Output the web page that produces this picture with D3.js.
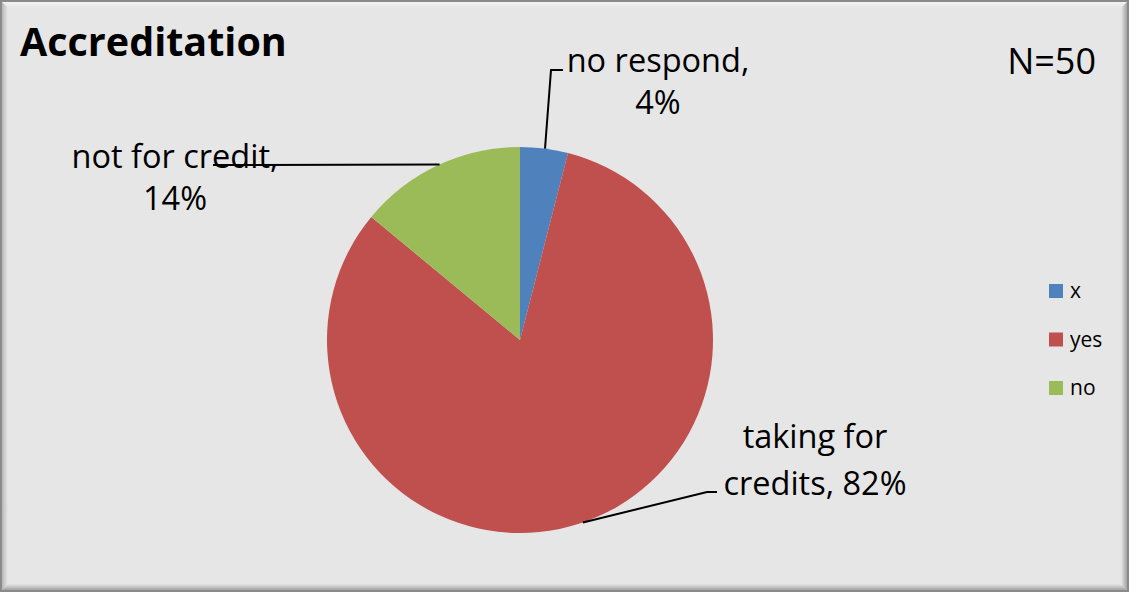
<!DOCTYPE html>
<html>
<head>
<meta charset="utf-8">
<script src="https://cdn.jsdelivr.net/npm/d3@7"></script>
<style>
  html, body { margin: 0; padding: 0; background: #ffffff; }
  svg { display: block; font-family: "Open Sans", "Liberation Sans", sans-serif; }
</style>
</head>
<body>
<div id="chart"></div>
<script>
(function () {
  // Data

  const categories = ["x", "yes", "no"];
  const counts = [2, 41, 7];               // N=50
  const sliceLabels = ["no respond,", "taking for credits,", "not for credit,"];
  const colors = ["#4f81bd", "#c0504d", "#9bbb59"];

  const title = "Accreditation";
  const noteText = "N=50";

  // Config

  const width = 1129;
  const height = 592;
  const cx = 520;
  const cy = 340;
  const radius = 193;

  const svg = d3.select("#chart")
    .append("svg")
    .attr("width", width)
    .attr("height", height)
    .attr("viewBox", [0, 0, width, height]);

  // Bevelled frame

  const defs = svg.append("defs");

  function grad(id, x1, y1, x2, y2, stops) {
    const g = defs.append("linearGradient")
      .attr("id", id)
      .attr("x1", x1).attr("y1", y1).attr("x2", x2).attr("y2", y2);
    stops.forEach(s => g.append("stop").attr("offset", s[0]).attr("stop-color", s[1]));
  }

  grad("bevTop", 0, 0, 0, 1, [[0, "#f6f6f6"], [1, "#e6e6e6"]]);
  grad("bevLeft", 0, 0, 1, 0, [[0, "#a8a8a8"], [1, "#e6e6e6"]]);
  grad("bevRight", 0, 0, 1, 0, [[0, "#e6e6e6"], [1, "#8c8c8c"]]);
  grad("bevBottom", 0, 0, 0, 1, [[0, "#e6e6e6"], [1, "#8c8c8c"]]);

  const b = 8;
  svg.append("rect")
    .attr("x", 0).attr("y", 0)
    .attr("width", width).attr("height", height)
    .attr("fill", "#e6e6e6");

  svg.append("polygon")
    .attr("points", [[0, 0], [width, 0], [width - b, b], [b, b]].join(" "))
    .attr("fill", "url(#bevTop)");
  svg.append("polygon")
    .attr("points", [[0, 0], [b, b], [b, height - b], [0, height]].join(" "))
    .attr("fill", "url(#bevLeft)");
  svg.append("polygon")
    .attr("points", [[width, 0], [width, height], [width - b, height - b], [width - b, b]].join(" "))
    .attr("fill", "url(#bevRight)");
  svg.append("polygon")
    .attr("points", [[0, height], [b, height - b], [width - b, height - b], [width, height]].join(" "))
    .attr("fill", "url(#bevBottom)");

  svg.append("rect")
    .attr("x", 1).attr("y", 1)
    .attr("width", width - 2).attr("height", height - 2)
    .attr("fill", "none")
    .attr("stroke", "#8a8a8a")
    .attr("stroke-width", 2);

  // Pie

  const pie = d3.pie().sort(null).value(d => d)
    .startAngle(0).endAngle(2 * Math.PI);
  const arcs = pie(counts);
  const total = d3.sum(counts);

  const arc = d3.arc().innerRadius(0).outerRadius(radius);

  const gPie = svg.append("g")
    .attr("transform", `translate(${cx},${cy})`);

  gPie.selectAll("path.slice")
    .data(arcs)
    .join("path")
    .attr("class", "slice")
    .attr("d", arc)
    .attr("fill", (d, i) => colors[i]);

  // Leader lines + labels (positions placed like the original)

  function edgePoint(angle) {
    return [cx + radius * Math.sin(angle), cy - radius * Math.cos(angle)];
  }

  const pct = counts.map(c => d3.format(".0%")(c / total));

  const labelSpecs = [
    { i: 0, at: 0.13, bend: [551, 70], end: [563, 70],
      lines: [sliceLabels[0], pct[0]], tx: 658, ty: [72, 114] },
    { i: 1, at: 2.81, bend: [707, 492], end: [717, 492],
      lines: ["taking for", "credits, " + pct[1]], tx: 815, ty: [448, 495] },
    { i: 2, at: -0.43, bend: null, end: [213, 165],
      lines: [sliceLabels[2], pct[2]], tx: 175, ty: [168, 210] }
  ];

  labelSpecs.forEach(s => {
    const p0 = edgePoint(s.at);
    const pts = [p0];
    if (s.bend) pts.push(s.bend);
    pts.push(s.end);
    svg.append("path")
      .attr("d", d3.line()(pts))
      .attr("fill", "none")
      .attr("stroke", "#000")
      .attr("stroke-width", 2);

    const t = svg.append("text")
      .attr("text-anchor", "middle")
      .attr("font-size", 32.5)
      .attr("fill", "#000");
    s.lines.forEach((ln, k) => {
      t.append("tspan").attr("x", s.tx).attr("y", s.ty[k]).text(ln);
    });
  });

  // Title and note

  svg.append("text")
    .attr("x", 20).attr("y", 56)
    .attr("font-size", 39.5)
    .attr("font-weight", "bold")
    .attr("fill", "#000")
    .text(title);

  svg.append("text")
    .attr("x", 1096).attr("y", 74)
    .attr("text-anchor", "end")
    .attr("font-size", 36)
    .attr("fill", "#000")
    .text(noteText);

  // Legend

  const legendY = d3.scalePoint()
    .domain(categories)
    .range([291, 388]);

  const legend = svg.append("g").selectAll("g")
    .data(categories)
    .join("g")
    .attr("transform", d => `translate(1049,${legendY(d)})`);

  legend.append("rect")
    .attr("x", 0).attr("y", -7)
    .attr("width", 14).attr("height", 14)
    .attr("fill", (d, i) => colors[i]);

  legend.append("text")
    .attr("x", 21).attr("y", 7)
    .attr("font-size", 21)
    .attr("fill", "#000")
    .text(d => d);
})();
</script>
</body>
</html>
